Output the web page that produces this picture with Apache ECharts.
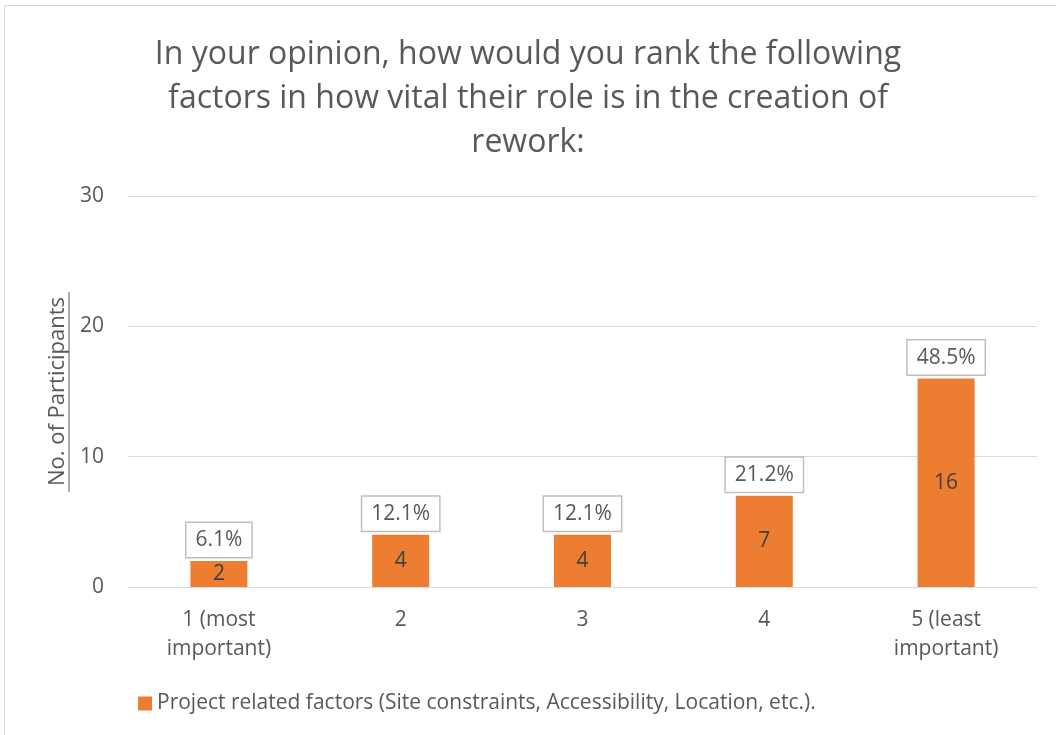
<!DOCTYPE html>
<html>
<head>
<meta charset="utf-8">
<script src="https://cdn.jsdelivr.net/npm/echarts@6/dist/echarts.min.js"></script>
<style>
html,body{margin:0;padding:0;background:#fff;}
#chart{position:absolute;left:0;top:0;width:1056px;height:735px;}
#frame{position:absolute;left:4px;top:5px;width:1060px;height:740px;border:1px solid #d9d9d9;pointer-events:none;}
</style>
</head>
<body>
<div id="chart"></div>
<div id="frame"></div>
<script>
const titleText = 'In your opinion, how would you rank the following\nfactors in how vital their role is in the creation of\nrework:';
const categories = ['1 (most\nimportant)', '2', '3', '4', '5 (least\nimportant)'];
const participants = [2, 4, 4, 7, 16];
const percentLabels = ['6.1%', '12.1%', '12.1%', '21.2%', '48.5%'];
const seriesName = 'Project related factors (Site constraints, Accessibility, Location, etc.).';
const yTicks = {min: 0, max: 30, interval: 10};

const FONT = 'Open Sans';
const TXT = '#595959';
const chart = echarts.init(document.getElementById('chart'), null, {renderer: 'canvas'});
chart.setOption({
  backgroundColor: '#fff',
  animation: false,
  title: {
    text: titleText,
    left: 'center',
    top: 28,
    textStyle: {fontFamily: FONT, fontSize: 32, fontWeight: 'normal', color: TXT, lineHeight: 44}
  },
  legend: {
    data: [seriesName],
    left: 133,
    top: 688,
    icon: 'rect',
    itemWidth: 14,
    itemHeight: 14,
    itemGap: 5,
    textStyle: {fontFamily: FONT, fontSize: 21, color: TXT}
  },
  grid: {left: 128, right: 19, top: 196, bottom: 148, containLabel: false},
  xAxis: {
    type: 'category',
    data: categories,
    axisLine: {show: true, lineStyle: {color: '#d9d9d9', width: 1}},
    axisTick: {show: false},
    axisLabel: {fontFamily: FONT, fontSize: 21, color: TXT, margin: 19, lineHeight: 29, interval: 0}
  },
  yAxis: {
    type: 'value',
    min: yTicks.min, max: yTicks.max, interval: yTicks.interval,
    name: 'No. of Participants',
    nameLocation: 'middle',
    nameRotate: 90,
    nameGap: 56,
    nameTextStyle: {fontFamily: FONT, fontSize: 22, color: TXT},
    axisLine: {show: false},
    axisTick: {show: false},
    splitLine: {lineStyle: {color: '#d9d9d9', width: 1}},
    axisLabel: {fontFamily: FONT, fontSize: 21, color: TXT, margin: 24}
  },
  graphic: [{
    type: 'line',
    shape: {x1: 69, y1: 292, x2: 69, y2: 492},
    style: {stroke: TXT, lineWidth: 1}
  }],
  series: [{
    name: seriesName,
    type: 'bar',
    data: participants,
    barWidth: 57,
    itemStyle: {color: '#ED7D31'},
    label: {show: true, position: 'inside', fontFamily: FONT, fontSize: 21, color: '#404040'}
  }, {
    name: 'pct',
    type: 'bar',
    data: participants,
    barWidth: 57,
    barGap: '-100%',
    silent: true,
    itemStyle: {color: 'rgba(0,0,0,0)'},
    label: {
      show: true, position: 'top', distance: 4,
      formatter: p => percentLabels[p.dataIndex],
      fontFamily: FONT, fontSize: 21, color: TXT,
      backgroundColor: '#fff', borderColor: '#bfbfbf', borderWidth: 1.5,
      padding: [7, 9, 6, 9]
    }
  }]
});
</script>
</body>
</html>
